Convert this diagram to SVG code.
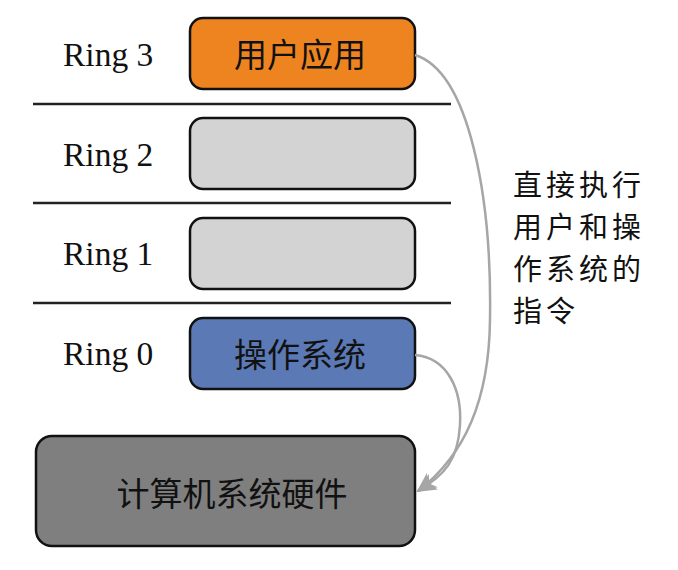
<svg xmlns="http://www.w3.org/2000/svg" width="678" height="570" viewBox="0 0 678 570">
<defs>
<style>
.box{stroke:#111;stroke-width:2.5}
.ring{font-family:"Liberation Serif","Times New Roman",serif;font-size:33.5px;fill:#111}
.cn{font-family:"Noto Sans CJK SC","Noto Sans",sans-serif;font-size:33px;fill:#111;dominant-baseline:central}
.note{font-family:"Noto Sans CJK SC","Noto Sans",sans-serif;font-size:29px;letter-spacing:4px;fill:#111}
.sep{stroke:#222;stroke-width:2.5}
.conn{fill:none;stroke:#a6a6a6;stroke-width:2.5}
</style>
<marker id="arr" viewBox="0 0 10 10" refX="9" refY="5" markerWidth="8" markerHeight="8" orient="auto" markerUnits="strokeWidth">
<path d="M0,0.5 L10,5 L0,9.5 L2.5,5 z" fill="#a6a6a6"/>
</marker>
</defs>
<rect width="678" height="570" fill="#fff"/>
<g id="separators">
<line class="sep" x1="33" y1="104" x2="451" y2="104"/>
<line class="sep" x1="33" y1="203" x2="451" y2="203"/>
<line class="sep" x1="33" y1="303" x2="451" y2="303"/>
</g>
<g id="labels">
<text class="ring" x="63" y="66">Ring 3</text>
<text class="ring" x="63" y="166">Ring 2</text>
<text class="ring" x="63" y="265">Ring 1</text>
<text class="ring" x="63" y="365">Ring 0</text>
</g>
<g id="ring3">
<rect class="box" x="190" y="18" width="225" height="71" rx="13" fill="#ee8420"/>
<text class="cn" x="300" y="53" text-anchor="middle">用户应用</text>
</g>
<g id="ring2">
<rect class="box" x="190" y="118" width="225" height="71" rx="13" fill="#d3d3d3"/>
</g>
<g id="ring1">
<rect class="box" x="190" y="218" width="225" height="71" rx="13" fill="#d3d3d3"/>
</g>
<g id="ring0">
<rect class="box" x="190" y="318" width="225" height="71" rx="13" fill="#5b79b5"/>
<text class="cn" x="300" y="353" text-anchor="middle">操作系统</text>
</g>
<g id="hardware">
<rect class="box" x="36" y="436" width="379" height="110" rx="16" fill="#7f7f7f"/>
<text class="cn" x="232" y="492" text-anchor="middle">计算机系统硬件</text>
</g>
<g id="note">
<text class="note" x="513" y="196">直接执行</text>
<text class="note" x="513" y="238">用户和操</text>
<text class="note" x="513" y="280">作系统的</text>
<text class="note" x="513" y="322">指令</text>
</g>
<g id="connectors">
<path class="conn" d="M415,55 C470,72 492,200 490,320 C489,400 465,455 418,491" marker-end="url(#arr)"/>
<path class="conn" d="M415,355 C448,358 462,390 460,425 C458,460 445,475 418,491" marker-end="url(#arr)"/>
</g>
</svg>
